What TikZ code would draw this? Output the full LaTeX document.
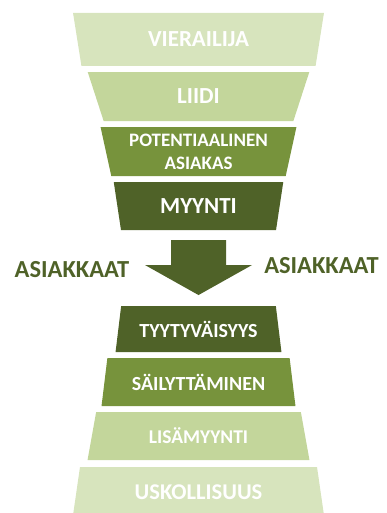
\documentclass[tikz,border=0pt]{standalone}
\usepackage{fontspec}
\setmainfont{Carlito}
\usetikzlibrary{shapes.geometric,positioning,calc}

\definecolor{pale}{HTML}{D7E4BD}
\definecolor{light}{HTML}{C3D69B}
\definecolor{mid}{HTML}{77933C}
\definecolor{dark}{HTML}{4F6228}

\begin{document}
\begin{tikzpicture}[x=1pt,y=-1pt,node distance=6pt,
  band/.style={trapezium,trapezium stretches=true,inner sep=0pt,outer sep=0pt,
    minimum height=48pt,text=white,align=center,
    font=\bfseries\fontsize{20}{23}\selectfont},
  funnel/.style={band,shape border rotate=180,trapezium angle=76.5},
  stack/.style={band,trapezium angle=75.4},
  side label/.style={text=dark,font=\bfseries\fontsize{24.5}{24}\selectfont}]
  \useasboundingbox (0,0) rectangle (387,513);
  % myyntisuppilo
  \node[funnel,fill=pale,minimum width=251pt,minimum height=53pt,
    font=\bfseries\fontsize{23}{23}\selectfont] (vierailija) at (198.5,39.5) {VIERAILIJA};
  \node[funnel,fill=light,minimum width=222.7pt,minimum height=49pt,below=of vierailija,
    font=\bfseries\fontsize{23}{23}\selectfont] (liidi) {LIIDI};
  \node[funnel,fill=mid,minimum width=196.3pt,minimum height=49pt,below=of liidi,
    font=\bfseries\fontsize{19}{23}\selectfont] (potentiaalinen) {POTENTIAALINEN\\ASIAKAS};
  \node[funnel,fill=dark,minimum width=169.9pt,below=of potentiaalinen,
    font=\bfseries\fontsize{23}{23}\selectfont] (myynti) {MYYNTI};
  % asiakaspyramidi
  \node[stack,fill=dark,minimum width=165.9pt,minimum height=46pt,below=76pt of myynti] (tyytyvaisyys) {TYYTYV\"AISYYS};
  \node[stack,fill=mid,minimum width=194pt,below=of tyytyvaisyys] (sailyttaminen) {S\"AILYTT\"AMINEN};
  \node[stack,fill=light,minimum width=222pt,below=of sailyttaminen,
    font=\bfseries\fontsize{19.5}{23}\selectfont] (lisamyynti) {LIS\"AMYYNTI};
  \node[stack,fill=pale,minimum width=251.7pt,minimum height=50pt,below=7pt of lisamyynti,
    font=\bfseries\fontsize{22.5}{23}\selectfont] (uskollisuus) {USKOLLISUUS};
  % nuoli
  \coordinate (tip) at ($(tyytyvaisyys.north)+(0,-11)$);
  \fill[dark] ($(myynti.south)+(-27.5,10)$) -- ++(55,0) -- ++(0,25) -- ++(26,0)
    -- (tip) -- ++(-53.5,-30) -- ++(26,0) -- cycle;
  \node[side label] (asiakkaatL) at (72,270) {ASIAKKAAT};
  \node[side label] (asiakkaatR) at (321.5,266) {ASIAKKAAT};
\end{tikzpicture}
\end{document}
